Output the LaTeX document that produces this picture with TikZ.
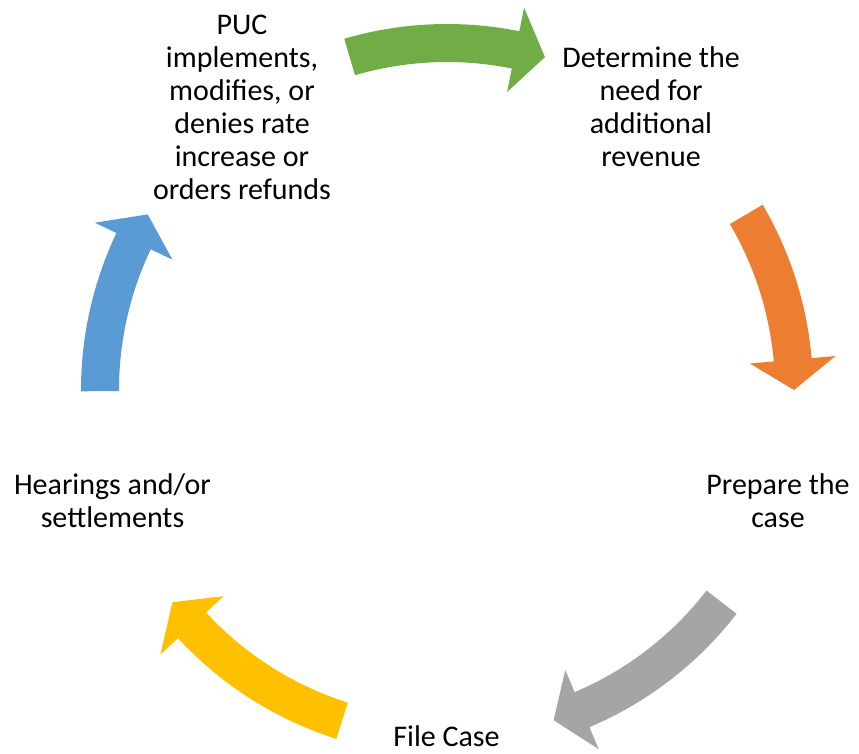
\documentclass[tikz,border=0pt]{standalone}
\usepackage{fontspec}
\setmainfont{Carlito}
\definecolor{arrGreen}{HTML}{70AD47}
\definecolor{arrOrange}{HTML}{ED7D31}
\definecolor{arrGray}{HTML}{A5A5A5}
\definecolor{arrYellow}{HTML}{FFC000}
\definecolor{arrBlue}{HTML}{5B9BD5}
% circular arrow around the cycle centre: #1 colour, #2 tail angle, #3 tip angle
\newcommand\cyclearrow[3]{%
  \pgfmathsetmacro\headbase{#3+5}%
  \fill[#1] (#2:366) arc[start angle=#2, end angle=\headbase, radius=366]
    -- (\headbase:390) -- (#3:347) -- (\headbase:304) -- (\headbase:328)
    arc[start angle=\headbase, end angle=#2, radius=328] -- cycle;}
\tikzset{
  steptext/.style={align=center, inner sep=0pt, text=black,
    font=\fontsize{30}{33}\selectfont}
}
\begin{document}
\begin{tikzpicture}[x=1pt, y=1pt]
  \useasboundingbox (0,0) rectangle (859,-754);
  \begin{scope}[shift={(447,-390)}]
    \cyclearrow{arrGreen}{106.3}{73.6}
    \cyclearrow{arrOrange}{30.4}{0}
    \cyclearrow{arrGray}{-37.7}{-72.1}
    \cyclearrow{arrYellow}{-107.6}{-142.3}
    \cyclearrow{arrBlue}{180.2}{149.6}
  \end{scope}
  \node[steptext] (need) at (651,-107) {Determine the\\need for\\additional\\revenue};
  \node[steptext] (prep) at (778,-501) {Prepare the\\case};
  \node[steptext, anchor=base] (file) at (446.5,-746) {File Case};
  \node[steptext] (hear) at (112.5,-501) {Hearings and/or\\settlements};
  \node[steptext] (puc) at (242,-107) {PUC\\implements,\\modifies, or\\denies rate\\increase or\\orders refunds};
\end{tikzpicture}
\end{document}
